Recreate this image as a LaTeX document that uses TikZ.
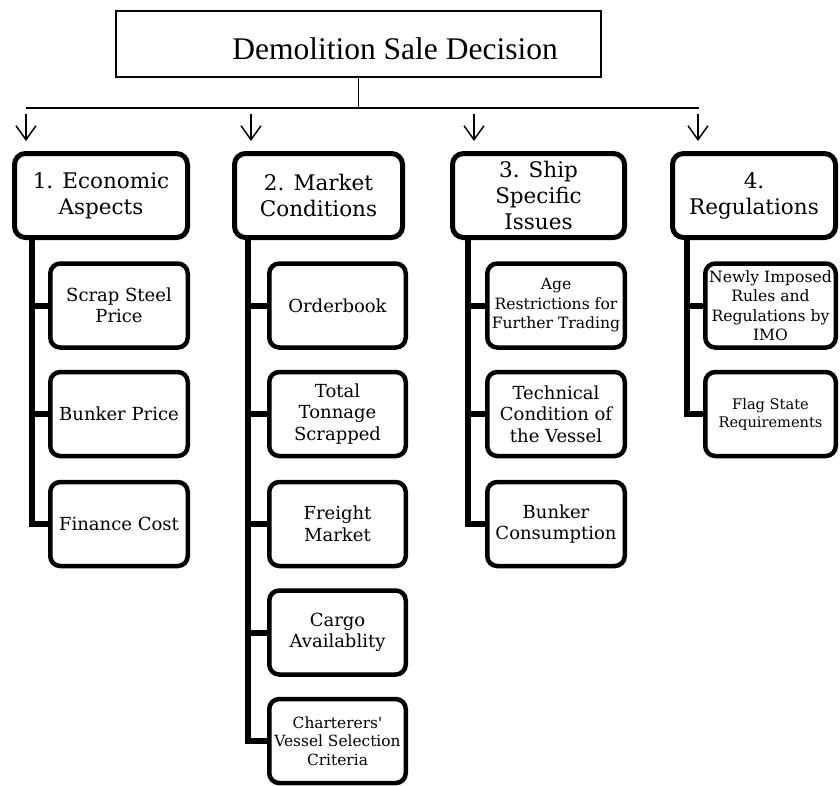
\documentclass[tikz,border=0pt]{standalone}
\usepackage{fontspec}
\setmainfont{DejaVu Serif}
\newfontfamily\nolig{DejaVu Serif}
\newfontfamily\titlefont{Liberation Serif}
\usetikzlibrary{arrows.meta}
\begin{document}
\begin{tikzpicture}[x=1pt,y=-1pt,
  topbox/.style={draw,line width=1.5pt,minimum width=485pt,minimum height=66pt,inner sep=0pt},
  catbox/.style={draw,line width=5pt,rounded corners=11pt,minimum height=84pt,inner sep=0pt,align=center,font=\fontsize{21.5}{26}\selectfont},
  subbox/.style={draw,line width=4.5pt,rounded corners=10pt,minimum height=84pt,inner sep=0pt,align=center,font=\fontsize{18}{21.5}\selectfont},
  small/.style={font=\fontsize{15.6}{19.5}\selectfont},
  smaller/.style={font=\fontsize{15.4}{18.5}\selectfont},
  tiny/.style={font=\fontsize{14.6}{18}\selectfont},
  trunk/.style={line width=6pt},
  thin/.style={line width=1.5pt},
  down/.style={line width=1.5pt,-{Straight Barb[length=14pt,width=20pt,line width=1.5pt]}}]
\useasboundingbox (0,0) rectangle (840,785);
% top
\node[topbox] (top) at (358.5,44) {};
\node[font=\titlefont\fontsize{31.5}{36}\selectfont] (title) at (395,49) {Demolition Sale Decision};
\coordinate (hL) at (26,108);
\coordinate (hR) at (699,108);
\draw[thin] (top.south) -- (top.south |- hL);
\draw[thin] (hL) -- (hR);
% arrows
\foreach \n/\x in {1/26,2/251,3/474,4/698}{
  \coordinate (as\n) at (\x,114);
  \coordinate (ae\n) at (\x,141);
  \draw[down] (as\n) -- (ae\n);
}
% categories
\node[catbox,minimum width=173pt] (k1) at (101,195.5) {1. Economic\\Aspects};
\node[catbox,minimum width=168pt] (k2) at (318.5,195.5) {2. Market\\Conditions};
\node[catbox,minimum width=172pt] (k3) at (538.5,195.5) {3. Ship\\Specific\\Issues};
\node[catbox,minimum width=163pt] (k4) at (754,195.5) {4.\\Regulations};
% column 1
\node[subbox,minimum width=137.5pt] (c11) at (119,305.5) {Scrap Steel\\Price};
\node[subbox,minimum width=137.5pt] (c12) at (119,414) {Bunker Price};
\node[subbox,minimum width=137.5pt] (c13) at (119,524) {Finance Cost};
% column 2
\node[subbox,minimum width=136.5pt] (c21) at (337.5,305.5) {Orderbook};
\node[subbox,minimum width=136.5pt] (c22) at (337.5,414) {Total\\Tonnage\\Scrapped};
\node[subbox,minimum width=136.5pt] (c23) at (337.5,524) {Freight\\Market};
\node[subbox,minimum width=136.5pt] (c24) at (337.5,632.5) {Cargo\\Availablity};
\node[subbox,smaller,minimum width=136.5pt] (c25) at (337.5,741) {Charterers{\nolig '}\\Vessel Selection\\Criteria};
% column 3
\node[subbox,small,minimum width=137.5pt] (c31) at (556,305.5) {Age\\Restrictions for\\Further Trading};
\node[subbox,minimum width=137.5pt] (c32) at (556,414) {Technical\\Condition of\\the Vessel};
\node[subbox,minimum width=137.5pt] (c33) at (556,524) {Bunker\\Consumption};
% column 4
\node[subbox,small,minimum width=130.5pt] (c41) at (770.5,305.5) {Newly Imposed\\Rules and\\Regulations by\\IMO};
\node[subbox,tiny,minimum width=130.5pt] (c42) at (770.5,414) {Flag State\\Requirements};
% trunks
\coordinate (t1) at (32,238);
\coordinate (t2) at (248,238);
\coordinate (t3) at (468,238);
\coordinate (t4) at (687,238);
\draw[trunk] (t1) |- (c13.west);
\draw[trunk] (t1 |- c11.west) -- (c11.west);
\draw[trunk] (t1 |- c12.west) -- (c12.west);
\draw[trunk] (t2) |- (c25.west);
\draw[trunk] (t2 |- c21.west) -- (c21.west);
\draw[trunk] (t2 |- c22.west) -- (c22.west);
\draw[trunk] (t2 |- c23.west) -- (c23.west);
\draw[trunk] (t2 |- c24.west) -- (c24.west);
\draw[trunk] (t3) |- (c33.west);
\draw[trunk] (t3 |- c31.west) -- (c31.west);
\draw[trunk] (t3 |- c32.west) -- (c32.west);
\draw[trunk] (t4) |- (c42.west);
\draw[trunk] (t4 |- c41.west) -- (c41.west);
\end{tikzpicture}
\end{document}
